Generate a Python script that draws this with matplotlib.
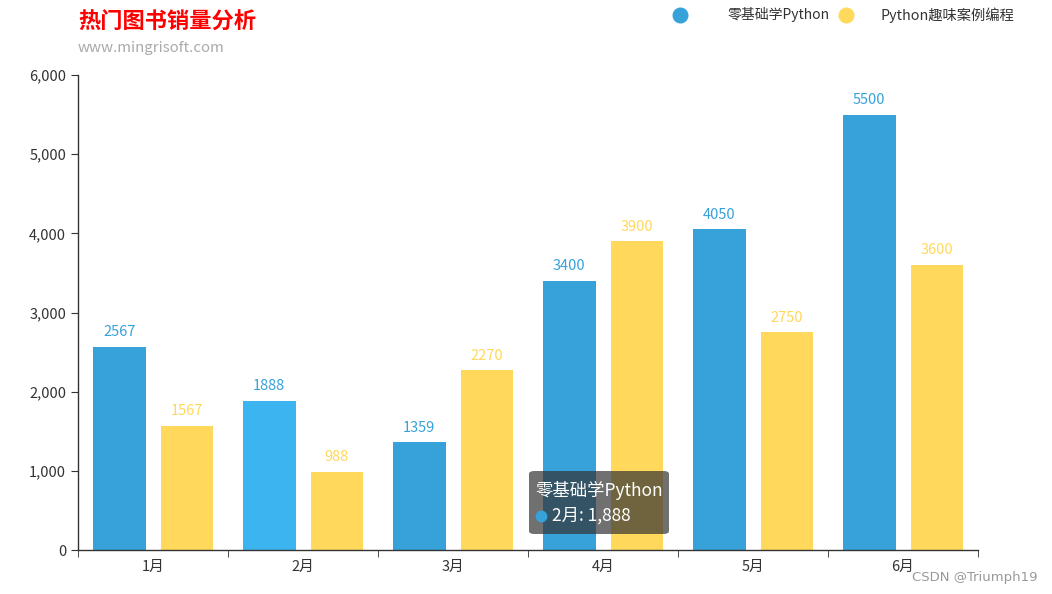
import numpy as np
import matplotlib.pyplot as plt
from matplotlib.lines import Line2D
from matplotlib.patches import FancyBboxPatch
from matplotlib.ticker import FuncFormatter, FixedLocator

plt.rcParams['font.family'] = ['Noto Sans CJK SC', 'DejaVu Sans']

months = ['1月', '2月', '3月', '4月', '5月', '6月']
series_a_name = '零基础学Python'
series_b_name = 'Python趣味案例编程'
series_a = [2567, 1888, 1359, 3400, 4050, 5500]
series_b = [1567, 988, 2270, 3900, 2750, 3600]

BLUE = '#37a2da'
BLUE_HI = '#3cb4ef'
YELLOW = '#ffd85c'
W, H = 1052, 594

fig = plt.figure(figsize=(W / 100, H / 100), dpi=100)
ax = fig.add_axes([78 / W, 44 / H, 900 / W, 475 / H])

x = np.arange(len(months))
bw = 0.35
a_colors = [BLUE_HI if i == 1 else BLUE for i in range(len(months))]
ax.bar(x - 0.225, series_a, width=bw, color=a_colors, zorder=2)
ax.bar(x + 0.225, series_b, width=bw, color=YELLOW, zorder=2)

# value labels above bars
for xi, v in zip(x, series_a):
    ax.annotate(str(v), (xi - 0.225, v), xytext=(0, 10.5), textcoords='offset points',
                ha='center', va='center', fontsize=10.5, color=BLUE)
for xi, v in zip(x, series_b):
    ax.annotate(str(v), (xi + 0.225, v), xytext=(0, 10.5), textcoords='offset points',
                ha='center', va='center', fontsize=10.5, color=YELLOW)

ax.set_xlim(-0.5, len(months) - 0.5)
ax.set_ylim(0, 6000)
ax.set_yticks(range(0, 6001, 1000))
ax.yaxis.set_major_formatter(FuncFormatter(lambda v, p: f'{int(v):,}'))
ax.set_xticks(x)
ax.set_xticklabels(months)
ax.xaxis.set_minor_locator(FixedLocator(np.arange(-0.5, len(months), 1.0)))
ax.tick_params(axis='x', which='major', length=0, pad=7, labelsize=10.5, labelcolor='#333333')
ax.tick_params(axis='x', which='minor', length=5, color='#333333')
ax.tick_params(axis='y', length=5, color='#333333', labelsize=10.5, labelcolor='#333333')

for s in ['top', 'right']:
    ax.spines[s].set_visible(False)
for s in ['left', 'bottom']:
    ax.spines[s].set_color('#333333')
    ax.spines[s].set_linewidth(1)

# title / subtitle
fig.text(78 / W, 1 - 22 / H, '热门图书销量分析', color='red', fontsize=16,
         fontweight='bold', ha='left', va='center')
fig.text(78 / W, 1 - 48 / H, 'www.mingrisoft.com', color='#aaaaaa', fontsize=10.8,
         ha='left', va='center')

# legend
fig.add_artist(Line2D([680 / W], [1 - 15 / H], marker='o', markersize=10.5,
                      color=BLUE, linestyle='none', transform=fig.transFigure))
fig.text(728 / W, 1 - 15 / H, series_a_name, fontsize=10, color='#333333',
         ha='left', va='center')
fig.add_artist(Line2D([846 / W], [1 - 15 / H], marker='o', markersize=10.5,
                      color=YELLOW, linestyle='none', transform=fig.transFigure))
fig.text(881 / W, 1 - 15 / H, series_b_name, fontsize=10.3, color='#333333',
         ha='left', va='center')

# tooltip
tip = FancyBboxPatch((529 / W, 1 - 534 / H), 140 / W, 63 / H,
                     boxstyle='round,pad=0,rounding_size=0.005',
                     transform=fig.transFigure, facecolor=(0.2, 0.2, 0.2, 0.7),
                     edgecolor='none', zorder=10)
fig.patches.append(tip)
fig.text(535 / W, 1 - 490 / H, series_a_name, color='white', fontsize=12.5,
         ha='left', va='center', zorder=11)
fig.add_artist(Line2D([541 / W], [1 - 516 / H], marker='o', markersize=7.5,
                      color=BLUE, linestyle='none', transform=fig.transFigure, zorder=11))
fig.text(552 / W, 1 - 516 / H, f'{months[1]}: {series_a[1]:,}', color='white',
         fontsize=12.5, ha='left', va='center', zorder=11)

# watermark
fig.text(1037 / W, 1 - 577 / H, 'CSDN @Triumph19', color='#999999', fontsize=9.5,
         ha='right', va='center', family=['DejaVu Sans'])

fig.savefig('out.png', dpi=100)
